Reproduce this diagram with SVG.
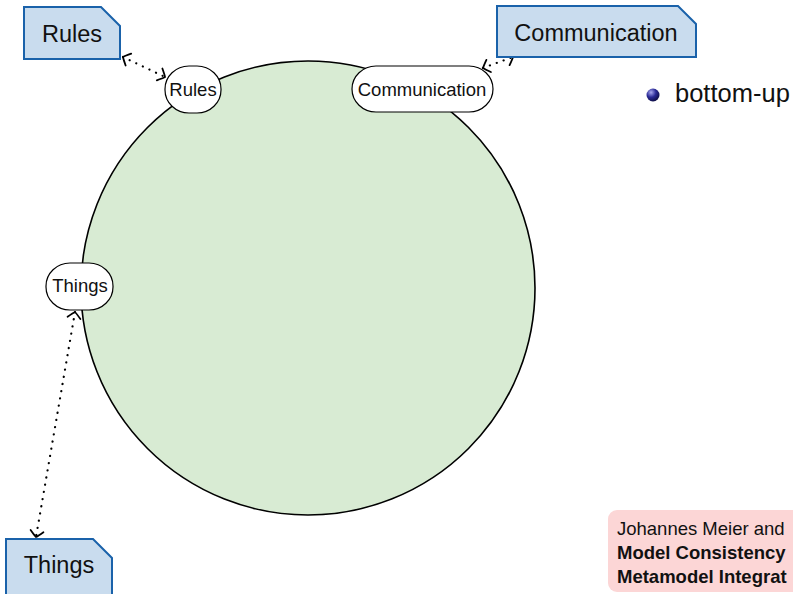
<svg xmlns="http://www.w3.org/2000/svg" width="793" height="594" viewBox="0 0 793 594">
<style>
.box{fill:#c9dcee;stroke:#1a62aa;stroke-width:2;stroke-linejoin:miter}
.node{fill:#ffffff;stroke:#000;stroke-width:1.2}
.bt{font-family:"Liberation Sans",Arial,sans-serif;font-size:23.5px;fill:#111;text-anchor:middle}
.nt{font-family:"Liberation Sans",Arial,sans-serif;font-size:18.5px;fill:#111;text-anchor:middle}
.con{fill:none;stroke:#000;stroke-width:2.2;stroke-dasharray:0.1 7.2;stroke-linecap:round;marker-start:url(#tip);marker-end:url(#tip)}
.ft{font-family:"Liberation Sans",Arial,sans-serif;font-size:18.5px;fill:#111}
</style>
<defs>
<marker id="tip" viewBox="-9 -8 11 16" markerWidth="11" markerHeight="16" refX="0" refY="0" orient="auto-start-reverse" markerUnits="userSpaceOnUse">
<path d="M-6,-6.5 Q-1.5,-2 0,0 Q-1.5,2 -6,6.5" fill="none" stroke="#000" stroke-width="1.8" stroke-linecap="round"/>
</marker>
<radialGradient id="ball" cx="0.35" cy="0.3" r="0.75">
<stop offset="0" stop-color="#a8a8ee"/>
<stop offset="0.5" stop-color="#2a2a96"/>
<stop offset="1" stop-color="#0c0c40"/>
</radialGradient>
</defs>
<g id="circle">
<circle cx="308" cy="288" r="227" fill="#d8ebd3" stroke="#000" stroke-width="1.6"/>
</g>
<g id="connectors">
<line class="con" x1="123" y1="57" x2="165" y2="77"/>
<line class="con" x1="483" y1="68" x2="513" y2="57"/>
<line class="con" x1="75" y1="312" x2="36" y2="537"/>
</g>
<g id="node-rules">
<rect class="node" x="165" y="66" width="56" height="47" rx="24" ry="23"/>
<text class="nt" x="193" y="96">Rules</text>
</g>
<g id="node-communication">
<rect class="node" x="352" y="66" width="141" height="46" rx="24" ry="23"/>
<text class="nt" x="422" y="96">Communication</text>
</g>
<g id="node-things">
<rect class="node" x="46" y="263" width="67" height="47" rx="24" ry="23"/>
<text class="nt" x="80" y="292">Things</text>
</g>
<g id="box-rules">
<path class="box" d="M24,7 H101 L120,26 V59 H24 Z"/>
<text class="bt" x="72" y="42">Rules</text>
</g>
<g id="box-communication">
<path class="box" d="M497,6 H678 L696,24 V57 H497 Z"/>
<text class="bt" x="596" y="41">Communication</text>
</g>
<g id="box-things">
<path class="box" d="M6,539 H93 L112,558 V600 H6 Z"/>
<text class="bt" x="59" y="573">Things</text>
</g>
<g id="bullet">
<circle cx="653" cy="95" r="6.5" fill="url(#ball)"/>
<text x="675" y="102" font-family="Liberation Sans, Arial, sans-serif" font-size="25.5" fill="#111">bottom-up</text>
</g>
<g id="footer">
<rect x="608" y="510" width="210" height="82" rx="9" ry="9" fill="#fcd6d6"/>
<text class="ft" x="617" y="535">Johannes Meier and</text>
<text class="ft" x="617" y="559" font-weight="bold">Model Consistency</text>
<text class="ft" x="617" y="583" font-weight="bold">Metamodel Integrat</text>
</g>
</svg>
